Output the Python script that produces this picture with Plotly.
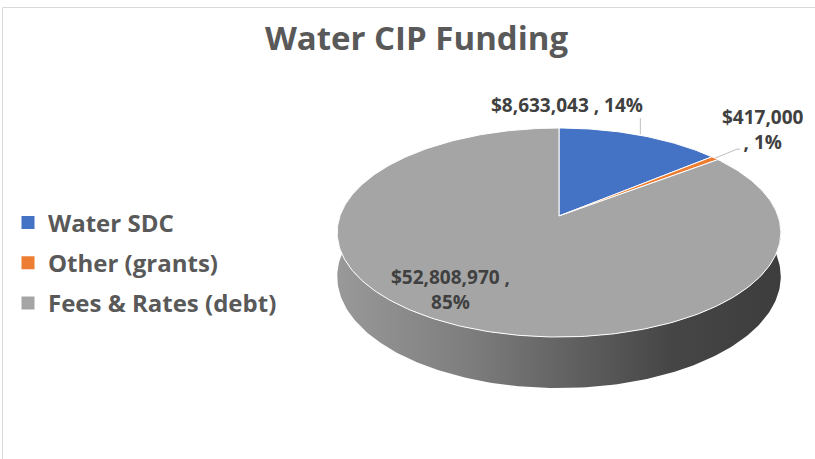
import numpy as np
import plotly.graph_objects as go

# ---- data ----
categories = ["Water SDC", "Other (grants)", "Fees & Rates (debt)"]
values = [8633043, 417000, 52808970]
colors = ["#4472C4", "#ED7D31", "#A5A5A5"]
chart_title = "Water CIP Funding"

# ---- geometry of the tilted (perspective) pie, in page pixels ----
W, H = 815, 459
CX, CY = 559, 216          # pie centre on screen
A, B, K = 219, 101.9, 0.158  # half-width, half-depth, perspective factor
DEPTH = 43                 # thickness of the disc
FONT = "Open Sans"


def proj(theta_deg, r=1.0, drop=0.0):
    t = np.radians(np.asarray(theta_deg, dtype=float))
    z = r * np.cos(t)
    d = 1 + K * z
    x = CX + A * r * np.sin(t) / d
    y = CY - B * z / d + drop / d
    return x, y


total = float(sum(values))
fracs = [v / total for v in values]
ends = np.cumsum(fracs) * 360.0
starts = np.concatenate([[0.0], ends[:-1]])

fig = go.Figure()

# side wall of the disc (visible front part)
th = np.linspace(80, 280, 201)
tx, ty = proj(th)
bx, by = proj(th[::-1], drop=DEPTH)
fig.add_trace(go.Scatter(
    x=np.concatenate([tx, bx]), y=np.concatenate([ty, by]),
    mode="lines", fill="toself", line=dict(width=0),
    fillgradient=dict(type="horizontal",
                      colorscale=[[0, "#999999"], [0.3, "#7d7d7d"],
                                  [0.55, "#5e5e5e"], [0.75, "#464646"],
                                  [1, "#3d3d3d"]]),
    showlegend=False, hoverinfo="skip"))

# top faces of the slices
for cat, v, c, s, e in zip(categories, values, colors, starts, ends):
    n = max(int(np.ceil(e - s)), 2) + 1
    ang = np.linspace(s, e, n)
    ax_, ay_ = proj(ang)
    xs = np.concatenate([[CX], ax_, [CX]])
    ys = np.concatenate([[CY], ay_, [CY]])
    fig.add_trace(go.Scatter(
        x=xs, y=ys, mode="lines", fill="toself", fillcolor=c,
        line=dict(color="white", width=1), name=cat,
        showlegend=False, hoveron="fills",
        hovertext=f"{cat}: ${v:,}", hoverinfo="text"))

# legend entries
for cat, c in zip(categories, colors):
    fig.add_trace(go.Scatter(
        x=[None], y=[None], mode="markers", name=cat, legendgroup=cat,
        marker=dict(symbol="square", size=13, color=c, line=dict(width=0))))


def label(i):
    pct = round(fracs[i] * 100)
    return f"${values[i]:,} , {pct}%"


mids = (starts + ends) / 2
label_font = dict(family=FONT, size=19, color="#404040", weight="bold")
annotations = []
shapes = []

# Water SDC label (outside, with vertical leader)
mx, my = proj(mids[0])
shapes.append(dict(type="line", xref="x", yref="y", x0=mx, y0=my - 1,
                   x1=mx, y1=my - 17, line=dict(color="#bfbfbf", width=1)))
annotations.append(dict(x=mx - 73, y=my - 30, xref="x", yref="y",
                        text=label(0), showarrow=False, font=label_font,
                        xanchor="center", yanchor="middle"))

# Other (grants) label (outside, with bent leader)
mx, my = proj(mids[1])
shapes.append(dict(type="path", xref="x", yref="y",
                   path=f"M{mx},{my} L{mx + 22},{my - 9} L{mx + 25},{my - 9}",
                   line=dict(color="#bfbfbf", width=1)))
pct1 = round(fracs[1] * 100)
annotations.append(dict(x=mx + 48, y=my - 29, xref="x", yref="y",
                        text=f"${values[1]:,}<br>, {pct1}%", showarrow=False,
                        font=label_font, xanchor="center", yanchor="middle"))

# Fees & Rates label (inside)
pct2 = round(fracs[2] * 100)
annotations.append(dict(x=450, y=289, xref="x", yref="y",
                        text=f"${values[2]:,} ,<br>{pct2}%", showarrow=False,
                        font=label_font, xanchor="center", yanchor="middle"))

# chart-area border
shapes.append(dict(type="rect", xref="x", yref="y", x0=2.5, y0=7.5,
                   x1=840, y1=480, line=dict(color="#d9d9d9", width=1),
                   layer="below"))

fig.update_layout(
    width=W, height=H,
    margin=dict(l=0, r=0, t=0, b=0),
    paper_bgcolor="white", plot_bgcolor="white",
    title=dict(text=chart_title, x=416.5 / W, xanchor="center",
               y=1 - 38 / H, yanchor="middle", yref="container",
               font=dict(family=FONT, size=33, color="#595959", weight="bold")),
    xaxis=dict(range=[0, W], visible=False, fixedrange=True),
    yaxis=dict(range=[H, 0], visible=False, fixedrange=True),
    legend=dict(x=8 / W, y=1 - 263 / H, xanchor="left", yanchor="middle",
                font=dict(family=FONT, size=24, color="#595959", weight="bold"),
                bgcolor="rgba(0,0,0,0)", tracegroupgap=6, itemwidth=30),
    annotations=annotations, shapes=shapes,
    hovermode="closest",
)

fig.write_html("out.html",
               config={"displayModeBar": False},
               post_script="document.body.style.margin='0';"
                           "document.body.style.overflow='hidden';")
